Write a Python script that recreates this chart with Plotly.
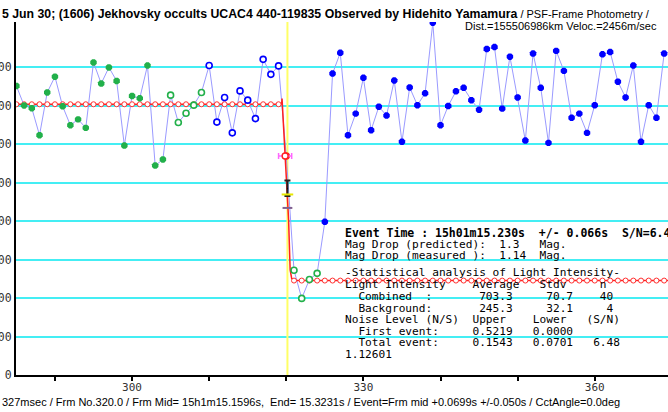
import plotly.graph_objects as go

# ---------------- data ----------------
frames = list(range(285, 370))
intensity = [751, 700, 693, 623, 734, 775, 698, 649, 664, 642,
             812, 757, 799, 764, 596, 725, 719, 804, 544, 560,
             727, 656, 680, 701, 734, 804, 657, 721, 629, 738,
             714, 666, 820, 781, 803, 569, 272, 199, 248, 264,
             398, 783, 837, 623, 679, 772, 636, 697, 674, 765,
             606, 747, 701, 732, 915, 649, 699, 737, 746, 714,
             689, 847, 852, 692, 827, 721, 609, 835, 746, 603,
             842, 790, 668, 679, 629, 701, 833, 839, 762, 721,
             804, 606, 701, 668, 835]

# point classes (first frame, last frame, class)
point_groups = [(285, 304, "used"), (305, 309, "green_open"), (310, 319, "blue_open"),
                (320, 320, "event"), (321, 324, "green_open"), (325, 369, "after")]

level_before = 703.3
level_after = 245.3
model_x = [285, 319.4, 319.45, 319.85, 320.1, 320.3, 320.5, 320.7, 321, 369.5]
model_y = [703.3, 703.3, 718, 569, 506, 403, 273, 251, 245.3, 245.3]
model_pts_before = list(range(285, 320))
model_pts_after = list(range(321, 370))

event_frame = 320.15
event_point = (319.85, 569)
event_bar_center = 485
event_bar_half = 20
event_yellow_y = 469
event_purple_y = 434

x_tick_vals = list(range(290, 371, 10))
x_tick_labels = ["" if v % 30 else str(v) for v in x_tick_vals]
y_tick_vals = list(range(0, 801, 100))
y_tick_labels = [str(v) for v in y_tick_vals]

title_bold = "5 Jun 30; (1606) Jekhovsky occults UCAC4 440-119835 Observed by Hidehito Yamamura"
title_rest = " / PSF-Frame Photometry /"
title_line2 = "Dist.=155506986km Veloc.=2456m/sec"
bottom_text = ("327msec / Frm No.320.0 / Frm Mid= 15h1m15.1596s,  End= 15.3231s / "
               "Event=Frm mid +0.0699s +/-0.050s / CctAngle=0.0deg")
event_line = "Event Time : 15h01m15.230s  +/- 0.066s  S/N=6.48"
stats_lines = [
    "Mag Drop (predicted):  1.3   Mag.",
    "Mag Drop (measured ):  1.14  Mag.",
    "-Statistical analysis of Light Intensity-",
    "Light Intensity    Average   Stdv     n",
    "  Combined  :       703.3     70.7    40",
    "  Background:       245.3     32.1     4",
    "Noise Level (N/S)  Upper    Lower   (S/N)",
    "  First event:     0.5219   0.0000",
    "  Total event:     0.1543   0.0701   6.48",
    "1.12601",
]

# ---------------- layout geometry ----------------
W, H = 668, 412
L, R, T, B = 16, 0, 22, 37
PW, PH = W - L - R, H - T - B


def px(xp):
    return (xp - L) / PW


def py(yp):
    return (H - B - yp) / PH


fig = go.Figure()

# yellow event line
fig.add_trace(go.Scatter(x=[event_frame, event_frame], y=[0, 917], mode="lines",
                         line=dict(color="#ffff66", width=2), hoverinfo="skip"))

# light curve line
fig.add_trace(go.Scatter(x=frames, y=intensity, mode="lines",
                         line=dict(color="#9a9aff", width=1), hoverinfo="skip"))

# model line
fig.add_trace(go.Scatter(x=model_x, y=model_y, mode="lines",
                         line=dict(color="#ff2020", width=1.5), hoverinfo="skip"))
fig.add_trace(go.Scatter(x=model_pts_before + model_pts_after,
                         y=[level_before] * len(model_pts_before) + [level_after] * len(model_pts_after),
                         mode="markers",
                         marker=dict(symbol="circle", size=5, color="white",
                                     line=dict(color="#ff3030", width=1)),
                         hoverinfo="skip"))

styles = {
    "used": dict(symbol="octagon", size=7, color="#22b04a", line=dict(width=0)),
    "green_open": dict(symbol="circle", size=6, color="white", line=dict(color="#22b04a", width=1.6)),
    "blue_open": dict(symbol="circle", size=6, color="white", line=dict(color="#0000ff", width=1.6)),
    "event": dict(symbol="circle", size=6, color="white", line=dict(color="#ff2020", width=1.4)),
    "after": dict(symbol="octagon", size=7, color="#0000ff", line=dict(width=0)),
}
for f0, f1, cls in point_groups:
    xs = [f for f in frames if f0 <= f <= f1]
    ys = [intensity[frames.index(f)] for f in xs]
    fig.add_trace(go.Scatter(x=xs, y=ys, mode="markers", marker=styles[cls], hoverinfo="skip"))

# event markers (error bars)
fig.add_trace(go.Scatter(x=[event_point[0]], y=[event_point[1]], mode="markers",
                         marker=dict(symbol="circle", size=6, color="white",
                                     line=dict(color="#ff2020", width=1.4)),
                         error_x=dict(type="constant", value=0.85, color="#ff66ff", thickness=1.5, width=3),
                         hoverinfo="skip"))
fig.add_trace(go.Scatter(x=[event_frame], y=[event_bar_center], mode="markers",
                         marker=dict(size=1, color="black"),
                         error_y=dict(type="constant", value=event_bar_half, color="#202020",
                                      thickness=2, width=3),
                         hoverinfo="skip"))
fig.add_trace(go.Scatter(x=[event_frame], y=[event_yellow_y], mode="markers",
                         marker=dict(size=1, color="#e0e000"),
                         error_x=dict(type="constant", value=0.75, color="#e8e800", thickness=2, width=0),
                         hoverinfo="skip"))
fig.add_trace(go.Scatter(x=[event_frame], y=[event_purple_y], mode="markers",
                         marker=dict(symbol="line-ew", size=7, line=dict(color="#806090", width=2)),
                         hoverinfo="skip"))

mono = "DejaVu Sans Mono"
ann = []
nb = lambda s: s.replace(" ", "\u00a0")

ann.append(dict(x=px(0), y=py(14.5), xref="paper", yref="paper", xanchor="left", yanchor="middle",
                text="<b>" + nb(title_bold) + "</b><span style='font-size:11px'>" + nb(title_rest) + "</span>",
                showarrow=False,
                font=dict(family="Liberation Sans", size=12.3, color="black")))
ann.append(dict(x=px(659), y=py(25.5), xref="paper", yref="paper", xanchor="right", yanchor="middle",
                text=nb(title_line2), showarrow=False,
                font=dict(family="Liberation Sans", size=11, color="black")))
ann.append(dict(x=px(0), y=py(401.5), xref="paper", yref="paper", xanchor="left", yanchor="middle",
                text=nb(bottom_text), showarrow=False,
                font=dict(family="Liberation Sans", size=11, color="black")))
ann.append(dict(x=px(343), y=py(233), xref="paper", yref="paper", xanchor="left", yanchor="middle",
                text="<b>" + nb(event_line) + "</b>", showarrow=False,
                font=dict(family=mono, size=11.5, color="black")))
line_ys = [244.5, 256, 272.5, 284.5, 296.5, 308, 319.5, 331, 342.5, 354.5]
for s, yy in zip(stats_lines, line_ys):
    ann.append(dict(x=px(343), y=py(yy), xref="paper", yref="paper", xanchor="left", yanchor="middle",
                    text=nb(s), showarrow=False, font=dict(family=mono, size=11.15, color="black")))

fig.update_layout(
    width=W, height=H,
    margin=dict(l=L, r=R, t=T, b=B, pad=0, autoexpand=False),
    paper_bgcolor="white", plot_bgcolor="white",
    showlegend=False,
    annotations=ann,
    xaxis=dict(range=[284.95, 369.5], tickvals=x_tick_vals, ticktext=x_tick_labels,
               ticks="outside", ticklen=4, tickcolor="black", tickwidth=1.5,
               ticklabelstandoff=-3,
               showline=True, linecolor="black", linewidth=2, showgrid=False, zeroline=False,
               automargin=False,
               tickfont=dict(family=mono, size=11, color="#333333")),
    yaxis=dict(range=[0, 917], tickvals=y_tick_vals, ticktext=y_tick_labels,
               ticks="", showline=True, linecolor="black", linewidth=2,
               showgrid=True, gridcolor="#44eef4", gridwidth=2, zeroline=False,
               automargin=False,
               tickfont=dict(family=mono, size=11.5, color="#333333")),
)

fig.write_html("out.html", config={"displayModeBar": False},
               post_script="document.body.style.margin='0';")
